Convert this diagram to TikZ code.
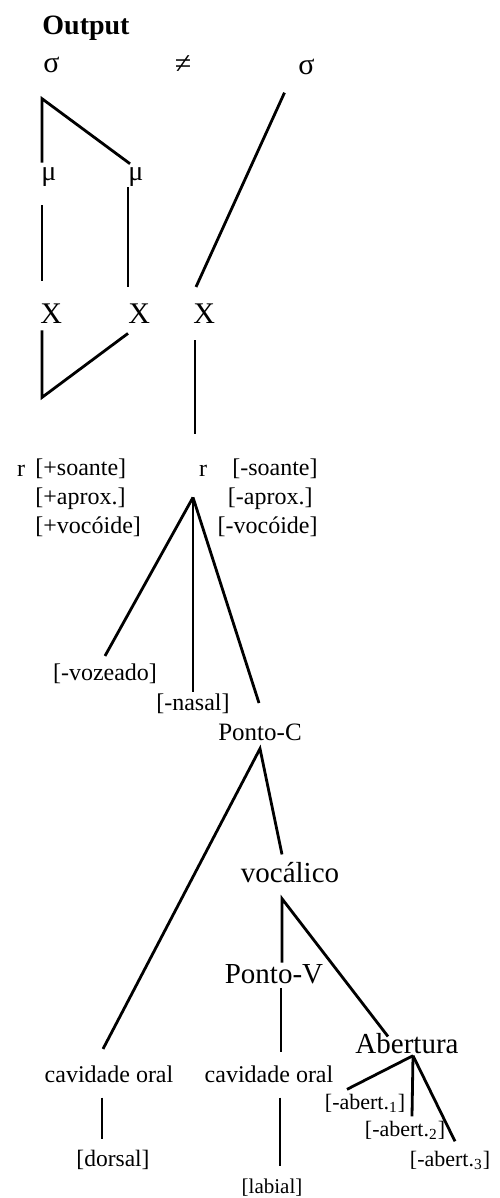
\documentclass[tikz,border=0pt]{standalone}
\usepackage{fontspec}
\setmainfont{Liberation Serif}
\begin{document}
\begin{tikzpicture}[x=0.5pt, y=-0.5pt,
        every node/.style={inner sep=0pt},
        sym/.style={font=\fontsize{15}{17}\selectfont},
        mora/.style={font=\fontsize{14}{16}\selectfont},
        ft/.style={font=\fontsize{12}{14}\selectfont},
        big/.style={font=\fontsize{14.5}{17}\selectfont},
        sub/.style={font=\fontsize{11}{13}\selectfont},
        br/.style={line width=1.4pt},
      ]
      \useasboundingbox (0,0) rectangle (499,1198);
      \node[font=\fontsize{14}{16}\selectfont\bfseries, anchor=base west] (out) at (42,35) {Output};
      \node[sym, anchor=base west] (s1) at (43,73) {σ};
      \node[sym] (neq) at (183,65) {≠};
      \node[sym, anchor=base west] (s2) at (298,75) {σ};
      \node[mora, anchor=base west] (m1) at (41,181) {μ};
      \node[mora, anchor=base west] (m2) at (128,181) {μ};
      \node[sym, anchor=base west] (x1) at (40,323) {X};
      \node[sym, anchor=base west] (x2) at (128,323) {X};
      \node[sym, anchor=base west] (x3) at (193,323) {X};
      \draw[br] ([xshift=0.5pt,yshift=2.5pt]m1.north west) -- ([xshift=-0.5pt,yshift=-12.5pt]s1.south west) -- ([xshift=1pt,yshift=2pt]m2.north west);
      \draw[br] ([xshift=0.5pt,yshift=-9pt]m1.south west) -- ([xshift=1pt,yshift=11pt]x1.north west);
      \draw[br] (m2.south west) -- ([yshift=8pt]x2.north west);
      \draw[br] ([xshift=-11pt,yshift=-8.5pt]s2.south) -- ([xshift=1.5pt,yshift=8pt]x3.north west);
      \draw[br] ([xshift=1pt,yshift=-3.5pt]x1.south west) -- ([xshift=1pt,yshift=-37pt]x1.south west) -- ([yshift=-5pt]x2.south west);

      \node[ft, anchor=base] (r1) at (21,476) {r};
      \node[ft, anchor=base west] (f1) at (35,475) {[+soante]};
      \node[ft, anchor=base west] (f2) at (35,504) {[+aprox.]};
      \node[ft, anchor=base west] (f3) at (35,533) {[+vocóide]};
      \node[ft, anchor=base] (r2) at (203,476) {r};
      \node[ft, anchor=base east] (g1) at (318,475) {[-soante]};
      \node[ft, anchor=base east] (g2) at (313,504) {[-aprox.]};
      \node[ft, anchor=base east] (g3) at (318,533) {[-vocóide]};
      \draw[br] ([xshift=1pt,yshift=-8.5pt]x3.south west) -- ([xshift=-4pt,yshift=15pt]r2.north);

      \coordinate (rv) at ([xshift=-5pt,yshift=-10.5pt]r2.south);
      \node[ft, anchor=base] (voz) at (105,680) {[-vozeado]};
      \node[ft, anchor=base] (nas) at (193,710) {[-nasal]};
      \node[font=\fontsize{12.5}{15}\selectfont, anchor=base] (pc) at (260,740) {Ponto-C};
      \draw[br] (rv) -- ([yshift=3.5pt]voz.north);
      \draw[br] (rv) -- ([yshift=0.5pt]nas.north);
      \draw[br] (rv) -- ([xshift=-0.5pt,yshift=10pt]pc.north);

      \coordinate (pcv) at ([yshift=-4pt]pc.south);
      \node[ft, anchor=base] (cav1) at (109,1082) {cavidade oral};
      \node[big, anchor=base] (voc) at (290,882) {vocálico};
      \draw[br] ([xshift=-3pt,yshift=8pt]cav1.north) -- (pcv) -- ([xshift=-4pt,yshift=3.5pt]voc.north);

      \coordinate (vv) at ([xshift=-4pt,yshift=-8pt]voc.south);
      \node[big, anchor=base] (pv) at (274,983) {Ponto-V};
      \node[big, anchor=base] (ab) at (407,1053) {Abertura};
      \draw[br] ([xshift=4pt,yshift=0.5pt]pv.north) -- (vv) -- ([xshift=-9.5pt,yshift=-2pt]ab.north);

      \node[ft, anchor=base] (cav2) at (269,1082) {cavidade oral};
      \node[font=\fontsize{11.75}{14}\selectfont, anchor=base] (dor) at (113,1166) {[dorsal]};
      \node[font=\fontsize{10.5}{13}\selectfont, anchor=base] (lab) at (272,1193) {[labial]};
      \draw[br] ([xshift=3.5pt,yshift=-2pt]pv.south) -- ([xshift=6pt,yshift=6.5pt]cav2.north);
      \draw[br] ([xshift=-3.5pt,yshift=-7.5pt]cav1.south) -- ([xshift=-5.5pt,yshift=5pt]dor.north);
      \draw[br] ([xshift=5.5pt,yshift=-7.5pt]cav2.south) -- ([xshift=4pt,yshift=6pt]lab.north);

      \coordinate (av) at ([xshift=3pt,yshift=-1pt]ab.south);
      \node[sub, anchor=base] (a1) at (365,1109) {[-abert.\textsubscript{1}]};
      \node[sub, anchor=base] (a2) at (405,1136) {[-abert.\textsubscript{2}]};
      \node[sub, anchor=base] (a3) at (450,1166) {[-abert.\textsubscript{3}]};
      \draw[br] ([xshift=-9pt,yshift=2pt]a1.north) -- (av);
      \draw[br] (av) -- ([xshift=3.5pt,yshift=2pt]a2.north);
      \draw[br] (av) -- ([xshift=2.5pt,yshift=4.5pt]a3.north);
    \end{tikzpicture}
\end{document}
